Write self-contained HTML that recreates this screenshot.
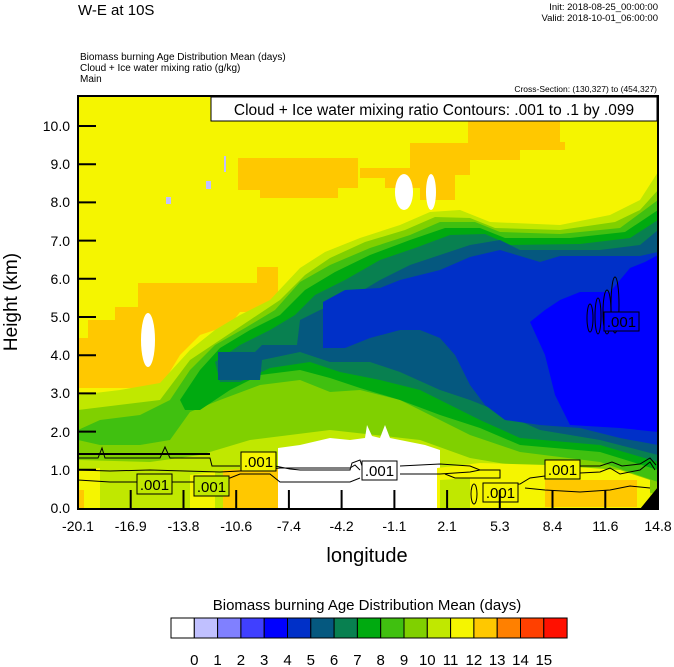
<!DOCTYPE html>
<html><head><meta charset="utf-8"><style>
html,body{margin:0;padding:0;background:#fff;}
svg{display:block;font-family:"Liberation Sans",Arial,sans-serif;}
</style></head><body>
<svg width="674" height="667" viewBox="0 0 674 667" xmlns="http://www.w3.org/2000/svg">
<text x="78" y="15" font-size="15">W-E at 10S</text>
<text x="658" y="10" font-size="9.5" text-anchor="end">Init: 2018-08-25_00:00:00</text>
<text x="658" y="21" font-size="9.5" text-anchor="end">Valid: 2018-10-01_06:00:00</text>
<text x="80" y="60" font-size="10">Biomass burning Age Distribution Mean    (days)</text>
<text x="80" y="71" font-size="10">Cloud + Ice water mixing ratio    (g/kg)</text>
<text x="80" y="82" font-size="10">Main</text>
<text x="657" y="92" font-size="8.5" text-anchor="end">Cross-Section: (130,327) to (454,327)</text>
<defs><clipPath id="c"><rect x="78" y="96" width="580" height="413"/></clipPath></defs>
<g clip-path="url(#c)">
<rect x="78" y="96" width="580" height="413" fill="#f5f500"/>
<polygon fill="#ffc800" points="468,97 560,97 560,142 565,142 565,150 520,150 520,160 470,160 470,175 455,175 455,200 420,200 420,188 385,188 385,178 360,178 360,168 410,168 410,143 468,143"/>
<polygon fill="#ffc800" points="238,158 358,158 358,188 338,188 338,198 260,198 260,190 238,190"/>
<polygon fill="#ffc800" points="138,283 257,283 257,267 278,267 278,312 240,312 230,325 200,335 180,355 168,375 160,388 78,388 78,338 88,338 88,320 115,320 115,307 138,307"/>
<ellipse cx="148" cy="340" rx="7" ry="27" fill="#fff"/>
<ellipse cx="404" cy="192" rx="9" ry="18" fill="#fff"/>
<ellipse cx="431" cy="192" rx="5" ry="18" fill="#fff"/>
<rect x="224" y="156" width="2" height="16" fill="#c0c0ff"/>
<rect x="206" y="181" width="5" height="8" fill="#c0c0ff"/>
<rect x="166" y="197" width="5" height="7" fill="#c0c0ff"/>
<polygon fill="#c0e800" points="78,395 120,390 160,383 190,350 215,330 240,315 270,300 300,268 325,252 360,238 400,225 430,212 460,210 490,222 560,225 610,215 640,200 658,172 658,509 78,509"/>
<polygon fill="#80d000" points="78,410 160,400 190,360 220,340 250,320 280,300 305,275 330,258 365,242 405,230 435,217 470,218 495,228 560,230 615,222 640,210 658,190 658,495 600,478 540,470 470,458 420,440 330,430 250,440 200,455 150,462 78,460"/>
<polygon fill="#40c010" points="78,430 100,420 140,415 170,400 190,370 215,345 245,328 275,310 300,282 330,265 370,248 410,235 440,222 475,222 500,232 560,234 620,228 658,200 658,482 600,462 520,452 470,435 430,415 400,400 360,390 330,392 300,380 260,385 220,400 190,412 170,440 140,445 100,445 78,440"/>
<polygon fill="#00aa10" points="180,400 200,370 220,348 250,330 280,315 305,290 335,272 370,255 410,240 445,228 480,228 505,238 570,238 625,232 658,210 658,470 600,452 520,445 480,428 440,415 400,400 360,388 330,378 300,370 260,375 230,390 200,410 185,410"/>
<polygon fill="#088050" points="215,362 240,345 270,330 295,315 315,295 345,280 380,260 415,248 450,235 485,234 510,245 580,244 630,238 658,220 658,462 600,445 520,438 480,420 450,405 420,390 380,380 340,372 310,362 270,368 240,382 220,382"/>
<polygon fill="#05587f" points="218,352 255,352 262,345 297,345 300,320 320,310 350,298 380,280 410,265 440,255 470,245 500,240 520,250 600,250 640,245 658,230 658,455 600,440 540,430 500,412 470,400 440,390 400,372 370,362 330,362 300,352 262,360 260,380 218,380"/>
<polygon fill="#0030c8" points="323,302 345,290 380,288 400,280 440,270 470,257 500,250 540,262 560,256 640,256 658,252 658,445 620,438 580,428 540,425 505,420 485,405 470,385 455,355 440,338 420,330 400,330 370,338 345,348 323,348"/>
<polygon fill="#0000ff" points="530,322 545,310 560,300 580,292 610,292 630,268 645,262 658,255 658,432 620,428 570,425 555,395 545,355"/>
<polygon fill="#fff" points="278,448 300,445 330,438 350,440 365,438 367,425 372,436 380,438 385,425 390,438 410,442 425,445 440,450 440,509 278,509"/>
<polygon fill="#ffc800" points="223,470 278,468 278,509 223,509"/>
<polygon fill="#f5f500" points="437,468 480,463 547,465 620,470 650,480 650,509 437,509"/>
<polygon fill="#c0e800" points="440,480 470,478 470,509 440,509"/>
<polygon fill="#ffc800" points="545,480 637,480 637,507 545,507"/>
<polygon fill="#f5f500" points="78,470 100,468 100,509 78,509"/>
<polygon fill="#ffc800" points="78,490 84,490 84,509 78,509"/>
<polygon fill="#f5f500" points="190,475 215,472 215,509 190,509"/>
<polygon fill="#c0e800" points="130,470 160,468 160,509 130,509"/>
<polygon fill="#000" points="658,487 658,509 640,509"/>
<g fill="none" stroke="#000" stroke-width="1">
<polyline stroke-width="2" points="78,454 210,454"/>
<polyline points="78,458 98,458 102,448 105,458 160,458 165,447 170,458 210,458 212,466 240,466"/>
<polyline points="78,470 110,471 150,470 220,472 260,470 280,468 350,468 355,465 360,470"/>
<polyline points="78,480 110,482 200,482 210,488 215,478 230,478 240,474 270,474 280,482 350,482 360,478"/>
<polyline points="270,465 290,469 300,470 350,470 352,463 360,460 362,466"/>
<polyline points="400,466 420,465 440,464 470,466 480,470 500,470 500,478 470,478 455,478 445,474"/>
<polyline points="400,474 440,474 470,472 480,470"/>
<polyline points="490,486 520,484 530,478 545,476 560,474 600,472 610,468 620,474 640,470 650,462 655,470"/>
<polyline points="545,468 560,466 600,466 612,462 622,466 640,464 650,458 656,465"/>
<polyline points="525,488 545,490 580,492 610,490 630,486 650,488"/>
<ellipse cx="474" cy="494" rx="3" ry="10"/>
<ellipse cx="590" cy="318" rx="3" ry="14"/>
<ellipse cx="598" cy="316" rx="3" ry="18"/>
<ellipse cx="607" cy="312" rx="4" ry="22"/>
<ellipse cx="615" cy="305" rx="4" ry="28"/>
</g>
</g>
<rect x="78" y="96" width="580" height="413" fill="none" stroke="#000" stroke-width="2"/>
<rect x="211" y="97" width="446" height="24" fill="#fff" stroke="#000" stroke-width="1"/>
<text x="434" y="115" font-size="15.5" text-anchor="middle">Cloud + Ice water mixing ratio Contours: .001 to .1 by .099</text>
<g font-size="15" text-anchor="middle">
<rect x="241" y="452" width="35" height="19" fill="#f5f500" stroke="#000"/><text x="258.5" y="467">.001</text>
<rect x="137" y="474" width="35" height="20" fill="#c0e800" stroke="#000"/><text x="154.5" y="490">.001</text>
<rect x="194" y="476" width="35" height="20" fill="#c0e800" stroke="#000"/><text x="211.5" y="492">.001</text>
<rect x="362" y="461" width="35" height="19" fill="#fff" stroke="#000"/><text x="379.5" y="476">.001</text>
<rect x="545" y="460" width="35" height="19" fill="#f5f500" stroke="#000"/><text x="562.5" y="475">.001</text>
<rect x="483" y="483" width="35" height="19" fill="#f5f500" stroke="#000"/><text x="500.5" y="498">.001</text>
<rect x="604" y="312" width="35" height="19" fill="#0000ff" stroke="#000"/><text x="621.5" y="327">.001</text>
</g>
<g stroke="#000" stroke-width="2">
<line x1="78" y1="126" x2="96" y2="126"/><line x1="78" y1="164.2" x2="96" y2="164.2"/><line x1="78" y1="202.4" x2="96" y2="202.4"/><line x1="78" y1="240.6" x2="96" y2="240.6"/><line x1="78" y1="278.8" x2="96" y2="278.8"/><line x1="78" y1="317" x2="96" y2="317"/><line x1="78" y1="355.2" x2="96" y2="355.2"/><line x1="78" y1="393.4" x2="96" y2="393.4"/><line x1="78" y1="431.6" x2="96" y2="431.6"/><line x1="78" y1="469.8" x2="96" y2="469.8"/>
<line x1="130.7" y1="508" x2="130.7" y2="490"/><line x1="183.5" y1="508" x2="183.5" y2="490"/><line x1="236.2" y1="508" x2="236.2" y2="490"/><line x1="288.9" y1="508" x2="288.9" y2="490"/><line x1="341.6" y1="508" x2="341.6" y2="490"/><line x1="394.4" y1="508" x2="394.4" y2="490"/><line x1="447.1" y1="508" x2="447.1" y2="490"/><line x1="499.8" y1="508" x2="499.8" y2="490"/><line x1="552.5" y1="508" x2="552.5" y2="490"/><line x1="605.3" y1="508" x2="605.3" y2="490"/>
</g>
<g font-size="14" text-anchor="end">
<text x="70" y="131">10.0</text><text x="70" y="169">9.0</text><text x="70" y="207">8.0</text><text x="70" y="246">7.0</text><text x="70" y="284">6.0</text><text x="70" y="322">5.0</text><text x="70" y="360">4.0</text><text x="70" y="398">3.0</text><text x="70" y="437">2.0</text><text x="70" y="475">1.0</text><text x="70" y="513">0.0</text>
</g>
<g font-size="14" text-anchor="middle">
<text x="78" y="531">-20.1</text><text x="130.7" y="531">-16.9</text><text x="183.5" y="531">-13.8</text><text x="236.2" y="531">-10.6</text><text x="288.9" y="531">-7.4</text><text x="341.6" y="531">-4.2</text><text x="394.4" y="531">-1.1</text><text x="447.1" y="531">2.1</text><text x="499.8" y="531">5.3</text><text x="552.5" y="531">8.4</text><text x="605.3" y="531">11.6</text><text x="658" y="531">14.8</text>
</g>
<text x="367" y="562" font-size="20" text-anchor="middle">longitude</text>
<text transform="translate(17,302) rotate(-90)" font-size="19" text-anchor="middle">Height (km)</text>
<text x="367" y="610" font-size="15" text-anchor="middle">Biomass burning Age Distribution Mean  (days)</text>
<g stroke="#000" stroke-width="1">
<rect x="171" y="618" width="23.3" height="20" fill="#ffffff"/>
<rect x="194.3" y="618" width="23.3" height="20" fill="#c0c0ff"/>
<rect x="217.6" y="618" width="23.3" height="20" fill="#8080ff"/>
<rect x="240.9" y="618" width="23.3" height="20" fill="#4040ff"/>
<rect x="264.2" y="618" width="23.3" height="20" fill="#0000ff"/>
<rect x="287.5" y="618" width="23.3" height="20" fill="#0030c8"/>
<rect x="310.8" y="618" width="23.3" height="20" fill="#05587f"/>
<rect x="334.1" y="618" width="23.3" height="20" fill="#088050"/>
<rect x="357.4" y="618" width="23.3" height="20" fill="#00aa10"/>
<rect x="380.7" y="618" width="23.3" height="20" fill="#40c010"/>
<rect x="404" y="618" width="23.3" height="20" fill="#80d000"/>
<rect x="427.3" y="618" width="23.3" height="20" fill="#c0e800"/>
<rect x="450.6" y="618" width="23.3" height="20" fill="#f5f500"/>
<rect x="473.9" y="618" width="23.3" height="20" fill="#ffc800"/>
<rect x="497.2" y="618" width="23.3" height="20" fill="#ff8000"/>
<rect x="520.5" y="618" width="23.3" height="20" fill="#ff4000"/>
<rect x="543.8" y="618" width="23.3" height="20" fill="#ff1000"/>
</g>
<g font-size="15" text-anchor="middle">
<text x="194.3" y="665">0</text><text x="217.6" y="665">1</text><text x="240.9" y="665">2</text><text x="264.2" y="665">3</text><text x="287.5" y="665">4</text><text x="310.8" y="665">5</text><text x="334.1" y="665">6</text><text x="357.4" y="665">7</text><text x="380.7" y="665">8</text><text x="404" y="665">9</text><text x="427.3" y="665">10</text><text x="450.6" y="665">11</text><text x="473.9" y="665">12</text><text x="497.2" y="665">13</text><text x="520.5" y="665">14</text><text x="543.8" y="665">15</text>
</g>
</svg>
</body></html>
